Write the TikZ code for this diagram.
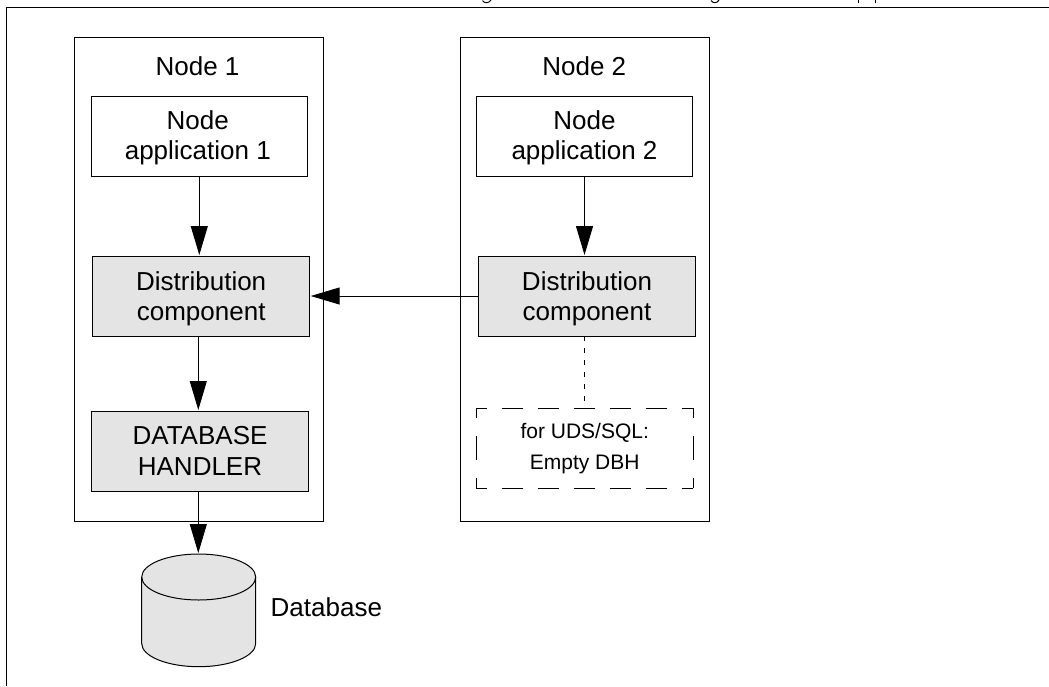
\documentclass[tikz,border=0pt]{standalone}
\usepackage{fontspec}
\setmainfont{Liberation Sans}
\usetikzlibrary{arrows.meta}
\definecolor{boxgray}{HTML}{E4E4E4}
\definecolor{inkblack}{HTML}{000000}
\newcommand{\liftline}[1]{\rule{0pt}{#1}}
\tikzset{
  base/.style={inner sep=0pt,outer sep=0pt,line width=1pt,draw=inkblack,align=center,font=\fontsize{26}{30}\selectfont},
  container/.style={base,minimum width=249pt,minimum height=484pt},
  whitebox/.style={base,minimum width=216pt,minimum height=80pt},
  graybox/.style={whitebox,minimum width=217pt,fill=boxgray},
  plain/.style={inner sep=0pt,outer sep=0pt,align=center,font=\fontsize{26}{30}\selectfont},
  smalltext/.style={inner sep=0pt,outer sep=0pt,align=center,font=\fontsize{21}{31}\selectfont},
  flow/.style={line width=1pt,-{Triangle[length=29pt,width=17pt]},shorten >=1pt},
  dashh/.style={line width=1pt,dash pattern=on 21pt off 15pt,dash phase=10pt},
  dashv/.style={line width=1pt,dash pattern=on 24pt off 18pt,dash phase=14pt}
}
\begin{document}
\begin{tikzpicture}[x=1pt,y=-1pt]
\useasboundingbox (0,0) rectangle (1049,686);
% page frame
\coordinate (fb) at (6.5,686);
\coordinate (ftl) at (6.5,7);
\coordinate (fr) at (1049,7);
\draw[line width=1pt] (fb) -- (ftl) -- (fr);
% cut-off descenders of the line above the frame
\draw[line width=1pt] (482.5,0.5) .. controls (484,3.5) and (489,3.5) .. (491,0);
\draw[line width=1pt] (711,0.5) .. controls (713,3.5) and (717,3.5) .. (719,0);
\draw[line width=1pt] (858,0) -- (858,3);
\draw[line width=1pt] (875,0) -- (875,3);
% node containers
\node[container] (n1) at (198.8,279) {};
\node[container] (n2) at (584.8,279) {};
\node[plain,anchor=base] (n1t) at (197.5,75.5) {Node 1};
\node[plain,anchor=base] (n2t) at (584.3,75.5) {Node 2};
% boxes
\node[whitebox] (a1) at (199.3,136) {\liftline{22pt}Node\hspace*{3pt}\\application 1\hspace*{3pt}};
\node[whitebox] (a2) at (584.5,136) {\liftline{22pt}Node\\application 2};
\node[graybox] (d1) at (201.2,296) {\liftline{25pt}Distribution\\component};
\node[graybox] (d2) at (587,296) {\liftline{25pt}Distribution\\component};
\node[graybox] (h1) at (200,451) {DATABASE\\[1pt]HANDLER};
\coordinate (lowaxis) at (198.3,0);
% empty DBH dashed box
\node[smalltext,minimum width=217pt,minimum height=80pt] (e2) at (584.7,448.3) {for UDS/SQL:\\Empty DBH};
\draw[dashh] (e2.north west) -- (e2.north east);
\draw[dashh] (e2.south west) -- (e2.south east);
\draw[dashv] (e2.north west) -- (e2.south west);
\draw[dashv] (e2.north east) -- (e2.south east);
% database cylinder
\path[fill=boxgray,draw=inkblack,line width=1pt] (141.7,577) -- (141.7,643.5) arc[start angle=180,end angle=0,x radius=57,y radius=23.2] -- (255.7,577) arc[start angle=0,end angle=180,x radius=57,y radius=-23] -- cycle;
\draw[line width=1pt] (141.7,577) arc[start angle=180,end angle=0,x radius=57,y radius=23];
\node[inner sep=0pt,outer sep=0pt,minimum width=114pt,minimum height=112.7pt] (db) at (198.7,610.4) {};
\node[plain,anchor=base west] (dbt) at (270.7,616) {Database};
% connectors
\draw[flow] (a1.south) -- (a1.south |- d1.north);
\draw[flow] (a2.south) -- (a2.south |- d2.north);
\draw[flow] (lowaxis |- d1.south) -- (lowaxis |- h1.north);
\draw[flow] (lowaxis |- h1.south) -- (lowaxis |- db.north);
\draw[flow] (d2.west) -- (d1.east);
\draw[line width=1pt,dash pattern=on 5pt off 7pt] (a2.south |- d2.south) -- (a2.south |- e2.north);
\end{tikzpicture}
\end{document}
